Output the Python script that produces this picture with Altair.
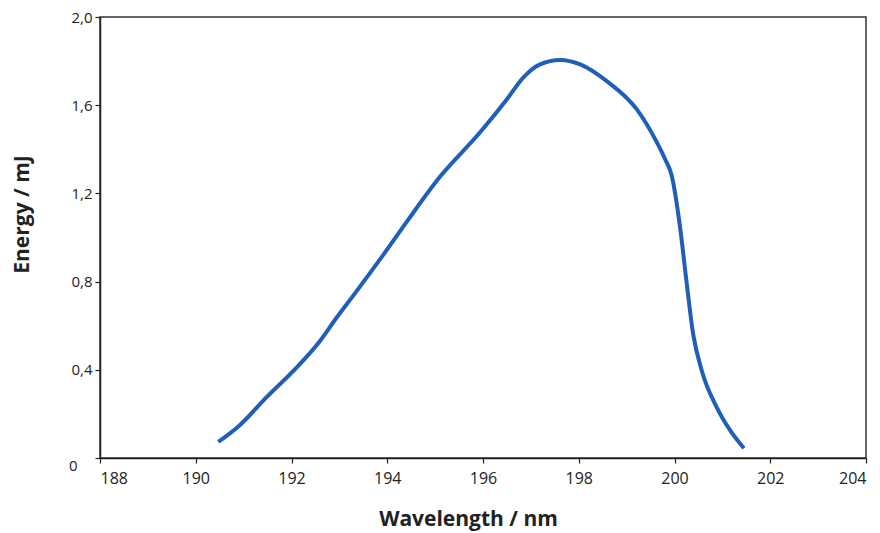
import altair as alt
import pandas as pd

wavelength = [190.47, 190.92, 191.48, 192.11, 192.60, 192.94, 193.36, 193.92, 194.41,
              195.10, 195.94, 196.50, 196.84, 197.19, 197.61, 198.03, 198.58, 199.21,
              199.63, 199.80, 199.94, 200.11, 200.25, 200.39, 200.57, 200.88, 201.16, 201.45]
energy = [0.073, 0.149, 0.276, 0.411, 0.532, 0.636, 0.757, 0.922, 1.072,
          1.275, 1.477, 1.627, 1.725, 1.785, 1.805, 1.785, 1.710, 1.582,
          1.432, 1.357, 1.282, 1.057, 0.802, 0.562, 0.396, 0.231, 0.126, 0.044]
x_ticks = [188, 190, 192, 194, 196, 198, 200, 202, 204]
y_ticks = [0, 0.4, 0.8, 1.2, 1.6, 2.0]

df = pd.DataFrame({"wavelength": wavelength, "energy": energy})

font = "Open Sans"

chart = alt.Chart(df).mark_line(
    color="#1f5fb8", strokeWidth=4, interpolate="monotone"
).encode(
    x=alt.X("wavelength:Q",
            scale=alt.Scale(domain=[188, 204], nice=False, zero=False),
            axis=alt.Axis(values=x_ticks, title="Wavelength / nm", format="d",
                          grid=False, titleX=368, titleY=61, titleBaseline="middle",
                          labelPadding=7, labelFontSize=16)),
    y=alt.Y("energy:Q",
            scale=alt.Scale(domain=[0, 2.0], nice=False),
            axis=alt.Axis(values=y_ticks, title="Energy / mJ", grid=False,
                          labelFontSize=15,
                          labelExpr="datum.value == 0 ? '0' : replace(format(datum.value, '.1f'), '.', ',')",
                          labelOffset={"condition": {"test": "datum.value == 0", "value": 7}, "value": 0},
                          labelPadding={"condition": {"test": "datum.value == 0", "value": 18}, "value": 3},
                          titleX=-78, titleY=197, titleBaseline="middle", titleAngle=-90)),
).properties(
    width=766, height=441,
    autosize=alt.AutoSizeParams(type="none"),
    padding={"left": 92, "top": 9, "right": 6, "bottom": 75},
).configure_view(
    stroke="#333333", strokeWidth=1.5
).configure_axis(
    labelFont=font, labelColor="#222222",
    titleFont=font, titleFontSize=21, titleFontWeight="bold", titleColor="#222222",
    domainColor="#222222", domainWidth=1.5, tickColor="#222222", tickSize=5, tickWidth=1.2,
)

chart.save("out.html", embed_options={"renderer": "svg", "actions": False})
